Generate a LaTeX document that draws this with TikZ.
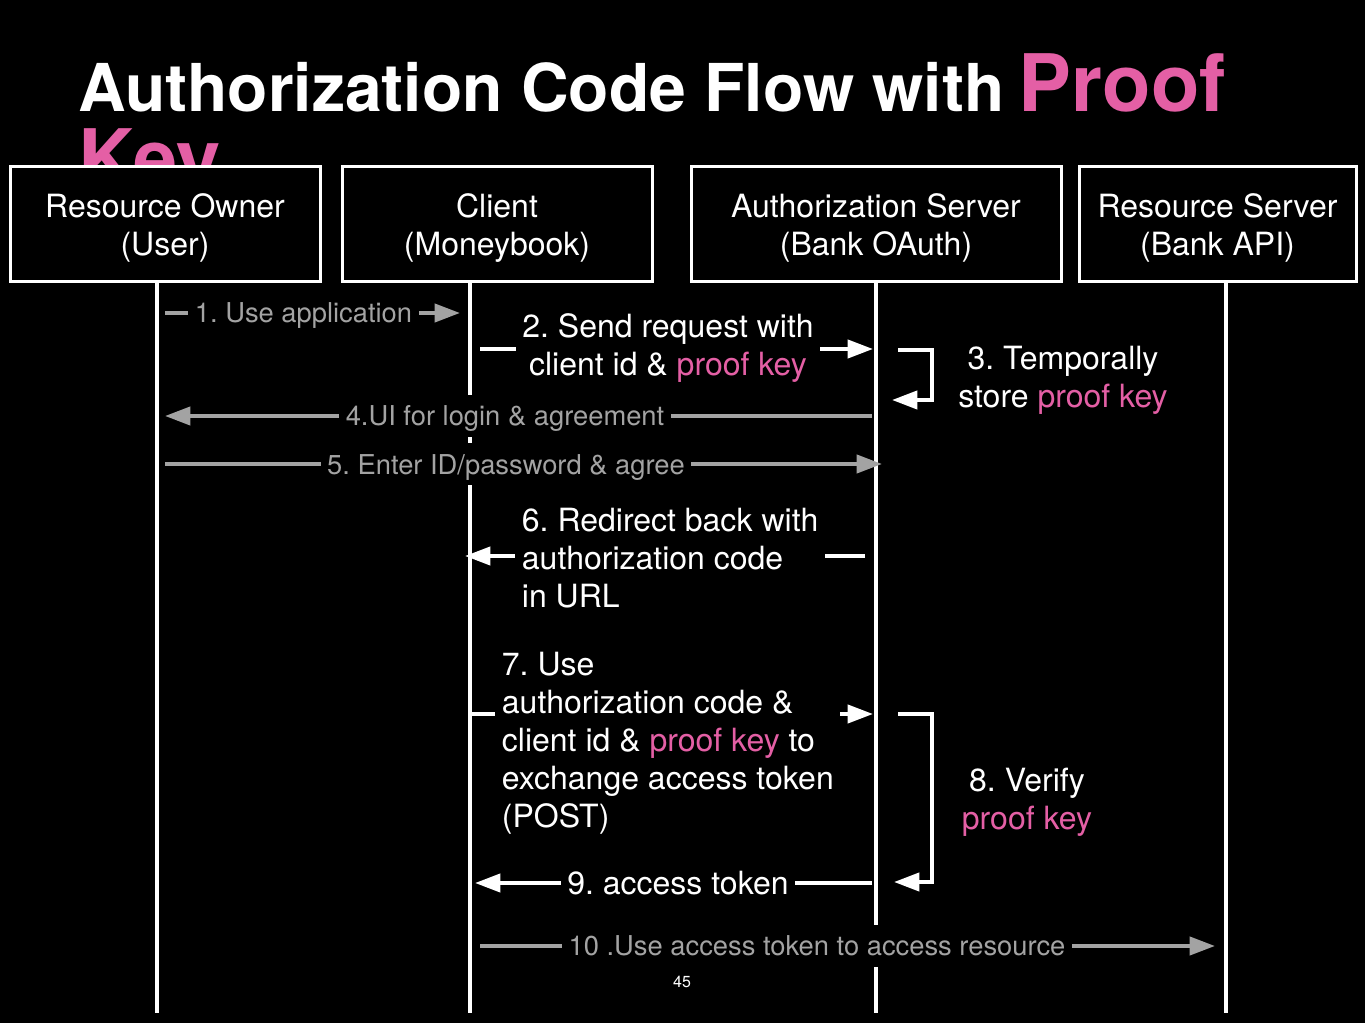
\documentclass[tikz,border=0pt]{standalone}
\usepackage{fontspec}
\setmainfont{TeX Gyre Heros}
\usetikzlibrary{arrows.meta}
\definecolor{pk}{HTML}{E45FA5}
\definecolor{gr}{HTML}{A3A3A3}
\frenchspacing
\begin{document}
\begin{tikzpicture}[x=0.75pt,y=-0.75pt,
  actor/.style={draw=white, line width=2.25pt, fill=black, inner sep=0pt,
    minimum height=86.25pt},
  actortext/.style={text=white, font=\fontsize{24}{28.5}\selectfont,
    align=center, inner sep=0pt},
  life/.style={white, line width=2.5pt},
  arrowtip/.style={-{Triangle[length=19pt,width=13.5pt]}},
  wmsg/.style={white, line width=3pt, arrowtip},
  gmsg/.style={gr, line width=3pt, arrowtip},
  wlbl/.style={fill=black, text=white, font=\fontsize{24}{28.5}\selectfont,
    inner xsep=5pt, inner ysep=3pt},
  glbl/.style={fill=black, text=gr, font=\fontsize{20.5}{24}\selectfont,
    text height=17pt, text depth=2.5pt, inner xsep=5pt, inner ysep=6pt}]
% canvas
\fill[black] (0,0) rectangle (1365,1023);
\useasboundingbox (0,0) rectangle (1365,1023);

% title (second line partly hidden behind the participant boxes)
\node[anchor=base west, inner sep=0pt, text=white,
  font=\fontsize{49.5}{58}\bfseries] (title) at (78,112)
  {Authorization Code Flow with\kern-3pt{} {\color{pk}\fontsize{59.5}{72}\selectfont Proof}};
\node[anchor=base west, inner sep=0pt, text=pk,
  font=\fontsize{59.5}{72}\bfseries] (titlekey) at (78,187) {Key};

% participants
\node[actor, minimum width=232.5pt] (user) at (165,224.5) {};
\node[actor, minimum width=232.5pt] (client) at (497,224.5) {};
\node[actor, minimum width=277.5pt] (auth) at (876,224.5) {};
\node[actor, minimum width=207.75pt] (rs) at (1217.5,224.5) {};
\node[actortext] (userT) at (165,228) {Resource Owner\\(User)};
\node[actortext] (clientT) at (497,228) {Client\\(Moneybook)};
\node[actortext] (authT) at (876,228) {Authorization Server\\(Bank OAuth)};
\node[actortext] (rsT) at (1217.5,228) {Resource Server\\(Bank API)};

% lifelines
\coordinate (uTop) at (157,283);  \coordinate (uBot) at (157,1013);
\coordinate (cTop) at (470,283);  \coordinate (cBot) at (470,1013);
\coordinate (aTop) at (876,283);  \coordinate (aBot) at (876,1013);
\coordinate (rTop) at (1226,283); \coordinate (rBot) at (1226,1013);
\draw[life] (uTop) -- (uBot);
\draw[life] (cTop) -- (cBot);
\draw[life] (aTop) -- (aBot);
\draw[life] (rTop) -- (rBot);

% message end points
\coordinate (m1a) at (165,313);  \coordinate (m1b) at (460,313);
\coordinate (m2a) at (480,349);  \coordinate (m2b) at (873,349);
\coordinate (m3a) at (898,350);  \coordinate (m3b) at (892,400);
\coordinate (m4a) at (872,416);  \coordinate (m4b) at (165,416);
\coordinate (m5a) at (165,464);  \coordinate (m5b) at (882,464);
\coordinate (m6a) at (865,556);  \coordinate (m6b) at (465,556);
\coordinate (m7a) at (470,714);  \coordinate (m7b) at (873,714);
\coordinate (m8a) at (898,714);  \coordinate (m8b) at (894,882);
\coordinate (m9a) at (872,883);  \coordinate (m9b) at (475,883);
\coordinate (m10a) at (480,946); \coordinate (m10b) at (1215,946);

% messages
\draw[gmsg] (m1a) -- (m1b);
\draw[wmsg] (m2a) -- (m2b);
\draw[wmsg] (m3a) -- (932,350) -- (932,400) -- (m3b);
\draw[gmsg] (m4a) -- (m4b);
\draw[gmsg] (m5a) -- (m5b);
\draw[wmsg] (m6a) -- (m6b);
\draw[wmsg] (m7a) -- (m7b);
\draw[wmsg] (m8a) -- (932,714) -- (932,882) -- (m8b);
\draw[wmsg] (m9a) -- (m9b);
\draw[gmsg] (m10a) -- (m10b);

% message labels
\node[glbl] (l1) at (303.5,313) {1. Use application};
\node[wlbl, align=center] (l2) at (668,348) {2. Send request with\\client id \& {\color{pk}proof key}};
\node[wlbl, align=center] (l3) at (1063,380) {3. Temporally\\store {\color{pk}proof key}};
\node[glbl] (l4) at (505,416) {4.UI for login \& agreement};
\node[glbl] (l5) at (506,464.5) {5. Enter ID/password \& agree};
\node[wlbl, align=left, anchor=west] (l6) at (515,558) {6. Redirect back with\\authorization code\\in URL};
\node[wlbl, align=left, anchor=west] (l7) at (495,743.5) {7. Use\\authorization code \&\\client id \& {\color{pk}proof key} to\\exchange access token\\(POST)};
\node[wlbl, align=center] (l8) at (1027,802) {8. Verify\\{\color{pk}proof key}};
\node[wlbl] (l9) at (678,883) {9. access token};
\node[glbl] (l10) at (817,946) {10 .Use access token to access resource};

% page number
\node[text=white, font=\fontsize{12}{14}\selectfont, inner sep=0pt] (pg) at (682,982) {45};
\end{tikzpicture}
\end{document}
